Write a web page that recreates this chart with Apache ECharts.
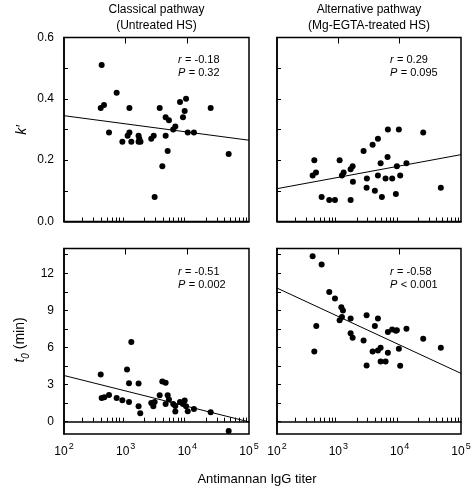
<!DOCTYPE html>
<html>
<head>
<meta charset="utf-8">
<script src="https://cdn.jsdelivr.net/npm/echarts@6/dist/echarts.min.js"></script>
<style>html,body{margin:0;padding:0;background:#fff}#c{width:474px;height:492px}</style>
</head>
<body>
<div id="c"></div>
<script>
// ---- data ----
const panelTitles = [['Classical pathway', '(Untreated HS)'], ['Alternative pathway', '(Mg-EGTA-treated HS)']];
const xTitle = 'Antimannan IgG titer';
const xLabelTicks = [100, 1000, 10000, 100000];
const xDecadeTicks = [1000, 10000];
const xMinorTicks = [200,300,400,500,600,700,800,900,2000,3000,4000,5000,6000,7000,8000,9000,20000,30000,40000,50000,60000,70000,80000,90000];
const kTicks = [0, 0.1, 0.2, 0.3, 0.4, 0.5, 0.6];
const kLabels = [0, 0.2, 0.4, 0.6];
const t0Ticks = [0, 1.5, 3, 4.5, 6, 7.5, 9, 10.5, 12, 13.5];
const t0Labels = [0, 3, 6, 9, 12];

const xClassical = [408,394,445,714,537,1150,884,1076,1150,1235,1620,1665,1620,1740,2600,2850,2950,3560,3930,4450,4450,4800,5030,5900,6380,7600,8500,9060,9530,10150,12800,23900,46800];
const kClassical = [0.51,0.37,0.38,0.42,0.29,0.37,0.26,0.28,0.29,0.26,0.28,0.27,0.26,0.26,0.27,0.28,0.08,0.37,0.18,0.28,0.34,0.23,0.33,0.30,0.31,0.39,0.34,0.36,0.40,0.29,0.29,0.37,0.22];
const xClassicalT = [394,408,451,537,714,884,1052,1133,1133,1235,1620,1620,1725,2600,2810,2950,3560,3930,4450,4450,4800,5030,5900,6380,6380,7600,8500,9060,9530,10150,12800,23900,46800];
const t0Classical = [3.81,1.92,1.97,2.16,1.92,1.73,4.22,3.11,1.59,6.43,3.08,1.24,0.67,1.51,1.24,1.59,2.14,3.24,3.14,1.43,2.14,1.78,1.43,0.81,1.27,1.59,1.43,1.70,1.24,0.84,1.03,0.76,-0.76];

const xAlternative = [406,381,432,534,711,881,1050,1145,1220,1586,1586,1710,1730,2580,2890,2920,3620,3940,4420,4420,4890,5130,5890,6420,6350,7550,8670,9000,9700,10200,12900,24200,46900];
const kAlternative = [0.20,0.15,0.16,0.08,0.07,0.07,0.20,0.15,0.16,0.07,0.17,0.18,0.13,0.23,0.11,0.14,0.25,0.10,0.27,0.15,0.19,0.08,0.14,0.30,0.21,0.14,0.09,0.18,0.30,0.15,0.19,0.29,0.11];
const xAlternativeT = [381,534,437,406,711,881,1120,1190,1145,1050,1586,1586,1710,2580,2890,2890,3620,3940,4420,4420,4890,4890,5890,6420,6420,7550,8670,9000,9700,10200,12900,24200,46900];
const t0Alternative = [13.38,12.71,7.73,5.68,10.49,9.95,9.25,8.98,8.46,8.19,8.33,7.14,6.78,6.57,8.60,4.54,5.68,7.73,8.33,5.76,5.97,4.87,4.87,7.24,5.57,7.46,7.35,7.38,5.89,4.51,7.51,6.70,5.97];

const fitX = [100, 100000];
const fitKClassical = [0.345, 0.265];
const fitKAlternative = [0.107, 0.218];
const fitT0Classical = [3.73, -0.02];
const fitT0Alternative = [10.8, 3.9];

const statR = ['-0.18', '0.29', '-0.51', '-0.58'];
const statP = ['= 0.32', '= 0.095', '= 0.002', '< 0.001'];

// ---- layout ----
const FONT = 'Arial, "Liberation Sans", sans-serif';
const grids = [
  {left: 64, top: 37.5, width: 185, height: 184},
  {left: 277, top: 37.5, width: 184, height: 184},
  {left: 64, top: 248.5, width: 185, height: 185.5},
  {left: 277, top: 248.5, width: 184, height: 185.5}
];
const pair = (xs, ys) => xs.map((x, i) => [x, ys[i]]);

const xAxes = grids.map((g, i) => ({
  type: 'log', logBase: 10, min: 100, max: 100000, gridIndex: i,
  axisLine: {show: true, lineStyle: {color: '#000', width: 1.5}},
  axisTick: {show: true, inside: true, length: 4, customValues: xMinorTicks, lineStyle: {color: '#000', width: 1}},
  minorTick: {show: false},
  splitLine: {show: false},
  axisLabel: {
    show: i >= 2, customValues: xLabelTicks, margin: 8,
    formatter: v => '{b|10}{s|' + Math.round(Math.log10(v)) + '}',
    rich: {
      b: {fontFamily: FONT, fontSize: 12, color: '#000', lineHeight: 16, verticalAlign: 'bottom'},
      s: {fontFamily: FONT, fontSize: 9, color: '#000', lineHeight: 16, verticalAlign: 'top', padding: [0, 0, 0, 1]}
    }
  }
}));
// longer decade ticks
grids.forEach((g, i) => {
  xAxes.push({
    type: 'log', logBase: 10, min: 100, max: 100000, gridIndex: i,
    axisLine: {show: false},
    axisTick: {show: true, inside: true, length: 6, customValues: xDecadeTicks, lineStyle: {color: '#000', width: 1}},
    axisLabel: {show: false}, splitLine: {show: false}, minorTick: {show: false}
  });
});

const yAxes = grids.map((g, i) => {
  const top = i < 2;
  return {
    type: 'value', gridIndex: i,
    min: top ? 0 : -1, max: top ? 0.6 : 14,
    axisLine: {show: true, lineStyle: {color: '#000', width: 1.5}},
    axisTick: {show: true, inside: true, length: 4, customValues: top ? kTicks : t0Ticks, lineStyle: {color: '#000', width: 1}},
    splitLine: {show: false},
    axisLabel: {
      show: i % 2 === 0, margin: 10,
      customValues: top ? kLabels : t0Labels,
      formatter: v => top ? v.toFixed(1) : String(v),
      fontFamily: FONT, fontSize: 12, color: '#000'
    }
  };
});

const scatterData = [
  pair(xClassical, kClassical), pair(xAlternative, kAlternative),
  pair(xClassicalT, t0Classical), pair(xAlternativeT, t0Alternative)
];
const fitData = [
  pair(fitX, fitKClassical), pair(fitX, fitKAlternative),
  pair(fitX, fitT0Classical), pair(fitX, fitT0Alternative)
];

const series = [];
for (let i = 0; i < 4; i++) {
  series.push({
    type: 'line', xAxisIndex: i, yAxisIndex: i, data: fitData[i],
    symbol: 'none', lineStyle: {color: '#000', width: 1}, silent: true, z: 2
  });
  series.push({
    type: 'scatter', xAxisIndex: i, yAxisIndex: i, data: scatterData[i],
    symbol: 'circle', symbolSize: 6, itemStyle: {color: '#000', opacity: 1}, silent: true, z: 3
  });
}

const rich = {
  i: {fontFamily: FONT, fontSize: 11, fontStyle: 'italic', fill: '#000'},
  n: {fontFamily: FONT, fontSize: 11, fill: '#000'}
};
const graphic = [];
// panel titles
panelTitles.forEach((t, c) => {
  const cx = grids[c].left + grids[c].width / 2;
  graphic.push({type: 'text', x: cx, y: 10, style: {text: t[0], font: '12px ' + FONT, fill: '#000', align: 'center', verticalAlign: 'middle'}});
  graphic.push({type: 'text', x: cx, y: 26, style: {text: t[1], font: '12px ' + FONT, fill: '#000', align: 'center', verticalAlign: 'middle'}});
});
// stats
const statPos = [[178, 60], [390, 60], [178, 272], [390, 272]];
statPos.forEach((p, i) => {
  graphic.push({type: 'text', x: p[0], y: p[1], style: {text: '{i|r} {n|= ' + statR[i] + '}', rich: rich, verticalAlign: 'middle'}});
  graphic.push({type: 'text', x: p[0], y: p[1] + 13, style: {text: '{i|P} {n|' + statP[i] + '}', rich: rich, verticalAlign: 'middle'}});
});
// axis titles
graphic.push({type: 'text', x: 257, y: 479, style: {text: xTitle, font: '13px ' + FONT, fill: '#000', align: 'center', verticalAlign: 'middle'}});
graphic.push({type: 'text', x: 22, y: 130, rotation: Math.PI / 2,
  style: {text: 'k\u2032', font: 'italic 14px ' + FONT, fill: '#000', align: 'center', verticalAlign: 'middle'}});
graphic.push({type: 'text', x: 22, y: 340, rotation: Math.PI / 2,
  style: {text: '{i|t}{s|0}{n| (min)}', align: 'center', verticalAlign: 'middle',
    rich: {
      i: {fontFamily: FONT, fontSize: 14, fontStyle: 'italic', fill: '#000', lineHeight: 18, verticalAlign: 'top'},
      s: {fontFamily: FONT, fontSize: 10, fontStyle: 'italic', fill: '#000', lineHeight: 18, verticalAlign: 'bottom'},
      n: {fontFamily: FONT, fontSize: 14, fill: '#000', lineHeight: 18, verticalAlign: 'top'}
    }}});

const chart = echarts.init(document.getElementById('c'), null, {renderer: 'canvas'});
chart.setOption({
  animation: false,
  backgroundColor: '#fff',
  grid: grids.map(g => Object.assign({show: true, borderColor: '#000', borderWidth: 1.5, backgroundColor: 'transparent', outerBoundsMode: 'none', containLabel: false}, g)),
  xAxis: xAxes,
  yAxis: yAxes,
  series: series,
  graphic: graphic
});
</script>
</body>
</html>
